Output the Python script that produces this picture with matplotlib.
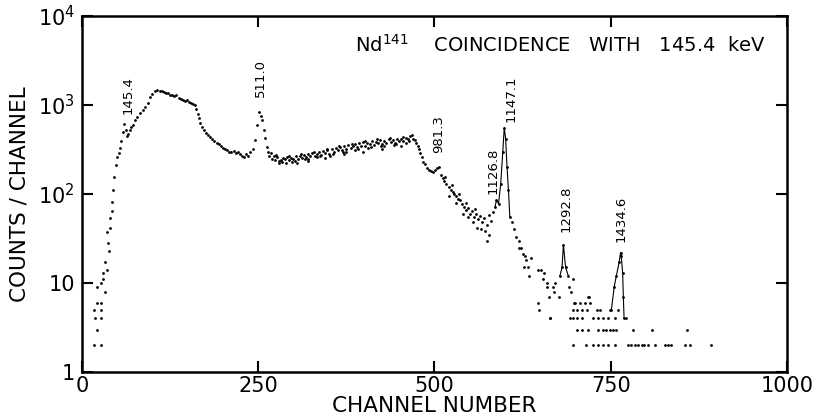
import matplotlib
matplotlib.use("Agg")
import matplotlib.pyplot as plt

# ---------------- data ----------------
# main spectrum: rise and 145.4 keV region
ch_rise = [17, 27, 21, 19, 27, 17, 27, 21, 27, 21, 27, 30, 33, 30, 35, 33, 38, 37, 36, 40,
           40, 42, 42, 44, 45, 48, 50, 52, 54, 56, 58, 60, 62, 64, 66, 68, 70, 72, 75, 78,
           82, 86, 90, 93, 97, 100, 104, 107, 110, 113, 116, 119, 122, 125, 128, 131, 134,
           137, 140, 143, 146, 149, 152, 155, 158, 160, 162, 164, 166, 168, 170, 173, 176,
           179, 182, 185, 188, 191, 194, 197, 200, 203, 206, 209, 212, 215, 218, 221, 224,
           227, 230, 233, 236, 239, 242, 245, 248, 251, 254, 256, 258, 260, 262, 264, 266]
ct_rise = [2, 2, 3, 4, 4, 5, 5, 6, 6, 9, 10, 11, 8, 13, 14, 17, 23, 28, 37, 42,
           54, 64, 81, 111, 155, 211, 260, 290, 330, 390, 500, 615, 520, 450, 470, 525, 560, 600, 680, 740,
           815, 880, 950, 1060, 1230, 1320, 1420, 1480, 1440, 1420, 1390, 1350, 1380, 1310, 1290, 1250, 1280,
           1210, 1180, 1150, 1120, 1150, 1080, 1060, 1020, 990, 900, 800, 710, 630, 560, 520, 490,
           460, 440, 410, 395, 375, 360, 345, 330, 320, 310, 300, 295, 305, 290, 300, 280,
           265, 260, 285, 270, 300, 320, 400, 600, 830, 760, 680, 520, 425, 340, 300, 270]

# Compton plateau up to the edge
ch_plat = [268, 270, 272, 274, 276, 279, 282, 285, 288, 291, 294, 297, 300, 303, 306, 309, 312,
           315, 318, 321, 324, 327, 330, 333, 336, 339, 342, 345, 348, 351, 354, 357, 360, 363,
           366, 369, 372, 375, 378, 381, 384, 387, 390, 393, 396, 399, 402, 405, 408, 411, 414,
           417, 420, 423, 426, 429, 432, 435, 438, 441, 444, 447, 450, 453, 456, 459, 462, 465,
           468, 470, 472, 474, 476, 478, 480, 482, 484, 486, 489, 492, 495, 498, 501, 503, 506,
           290, 305, 320, 345, 372, 398, 425, 452]
ct_plat = [290, 250, 265, 240, 260, 235, 240, 255, 245, 260, 240, 255, 250, 265, 245, 270, 255,
           275, 260, 280, 270, 290, 265, 285, 300, 275, 305, 290, 310, 285, 320, 300, 330, 310,
           335, 315, 345, 320, 355, 330, 345, 360, 335, 370, 350, 380, 345, 375, 360, 390, 355,
           385, 370, 400, 365, 390, 375, 410, 380, 400, 375, 415, 390, 420, 395, 430, 410, 445,
           460, 420, 400, 370, 350, 320, 290, 260, 230, 215, 195, 185, 180, 175, 185, 195, 200,
           225, 225, 235, 255, 285, 300, 320, 345]
# extra scattered plateau points (upper and lower edge of the band)
ch_plat2 = [275, 284, 293, 302, 311, 320, 329, 338, 347, 356, 365, 374, 383, 392, 401, 410,
            419, 428, 437, 446, 455, 464, 280, 298, 316, 334, 352, 370, 388, 406, 424, 442, 460]
ct_plat2 = [275, 230, 270, 235, 280, 250, 300, 265, 320, 280, 345, 300, 365, 320, 390, 340,
            410, 350, 425, 365, 440, 390, 225, 230, 245, 260, 270, 295, 315, 330, 345, 355, 370]

# fall after the edge, 1126.8 and 1147.1 keV region
ch_fall = [509, 512, 514, 517, 520, 523, 526, 528, 531, 533, 536, 539, 542, 545, 548, 550, 553,
           556, 559, 562, 565, 568, 571, 574, 577, 580, 583, 520, 530, 540, 548, 555, 560, 566,
           572, 578, 575, 515, 525, 535, 545, 557]
ct_fall = [165, 150, 140, 128, 120, 112, 106, 100, 96, 88, 85, 78, 72, 66, 70, 60, 64,
           55, 60, 52, 56, 48, 54, 45, 58, 50, 62, 95, 80, 60, 55, 48, 42, 40,
           38, 35, 30, 155, 125, 100, 80, 68]

# peaks drawn with connecting lines
ch_p1147 = [586, 588, 591, 594, 597, 599, 601, 603, 605, 607]
ct_p1147 = [72, 85, 78, 130, 300, 550, 420, 200, 110, 55]
ch_p1292 = [678, 681, 683, 686, 690]
ct_p1292 = [12, 15, 27, 15, 12]
ch_p1434 = [751, 755, 758, 762, 764, 765, 767, 768, 769]
ct_p1434 = [5, 9, 12, 17, 22, 20, 13, 7, 4]

# tail scatter
ch_tail = [610, 613, 616, 620, 620, 623, 626, 628, 630, 627, 633, 634, 637, 647, 647, 649,
           651, 654, 656, 659, 659, 663, 668, 664, 670, 671, 677, 691, 696, 694, 698, 718, 719]
ct_tail = [48, 40, 33, 30, 25, 25, 21, 20, 18, 15, 15, 12, 19, 14, 6, 5,
           14, 11, 13, 10, 9, 7, 9, 4, 8, 10, 7, 9, 11, 8, 6, 7, 7]

ch_row6 = [700, 707, 714, 721]
ch_row5 = [697, 702, 709, 716, 730, 735, 749, 761]
ch_row4 = [664, 692, 697, 702, 709, 725, 732, 739, 746, 756, 772]
ch_row3 = [702, 709, 718, 732, 739, 744, 749, 754, 758, 782, 808, 858]
ch_row2 = [697, 715, 725, 732, 739, 746, 756, 775, 779, 784, 789, 794, 798, 803, 813, 827,
           832, 836, 855, 862, 893]

# peak labels: energy text, channel, counts at label base
peak_labels = ["145.4", "511.0", "981.3", "1126.8", "1147.1", "1292.8", "1434.6"]
label_ch = [65, 253, 506, 583, 609, 687, 765]
label_ct = [800, 1230, 290, 100, 640, 37, 29]

x_ticks = [0, 250, 500, 750, 1000]
x_ticklabels = ["0", "250", "500", "750", "1000"]
y_ticks = [1, 10, 100, 1000, 10000]
y_ticklabels = ["1", "10", r"10$^2$", r"10$^3$", r"10$^4$"]

# ---------------- figure ----------------
fig = plt.figure(figsize=(8.14, 4.20), dpi=100)
ax = fig.add_axes([0.1007, 0.1143, 0.866, 0.8476])

dot = dict(ls="none", marker="o", ms=2.0, color="black", mew=0)
ax.plot(ch_rise, ct_rise, **dot)
ax.plot(ch_plat, ct_plat, **dot)
ax.plot(ch_plat2, ct_plat2, **dot)
ax.plot(ch_fall, ct_fall, **dot)
ax.plot(ch_tail, ct_tail, **dot)
for chs, val in [(ch_row6, 6), (ch_row5, 5), (ch_row4, 4), (ch_row3, 3), (ch_row2, 2)]:
    ax.plot(chs, [val] * len(chs), **dot)
for chs, cts in [(ch_p1147, ct_p1147), (ch_p1292, ct_p1292), (ch_p1434, ct_p1434)]:
    ax.plot(chs, cts, color="black", lw=0.8, marker="o", ms=2.0, mew=0)

for txt, c, v in zip(peak_labels, label_ch, label_ct):
    ax.text(c, v, txt, rotation=90, ha="center", va="bottom", fontsize=9.5)

ax.text(0.387, 0.918, r"Nd$^{141}$    COINCIDENCE   WITH   145.4  keV",
        transform=ax.transAxes, ha="left", va="center", fontsize=14)

ax.set_yscale("log")
ax.set_xlim(0, 1000)
ax.set_ylim(1, 10000)
ax.set_xticks(x_ticks)
ax.set_xticklabels(x_ticklabels)
ax.set_yticks(y_ticks)
ax.set_yticklabels(y_ticklabels)
ax.minorticks_off()
ax.tick_params(direction="in", top=True, right=True, length=8, width=1.5,
               labelsize=15)
ax.tick_params(axis="x", pad=3)
ax.tick_params(axis="y", pad=5)
for s in ax.spines.values():
    s.set_linewidth(1.8)

ax.set_xlabel("CHANNEL NUMBER", fontsize=15.5, labelpad=0)
ax.set_ylabel("COUNTS / CHANNEL", fontsize=15.5, labelpad=6)

fig.savefig("out.png", dpi=100)
